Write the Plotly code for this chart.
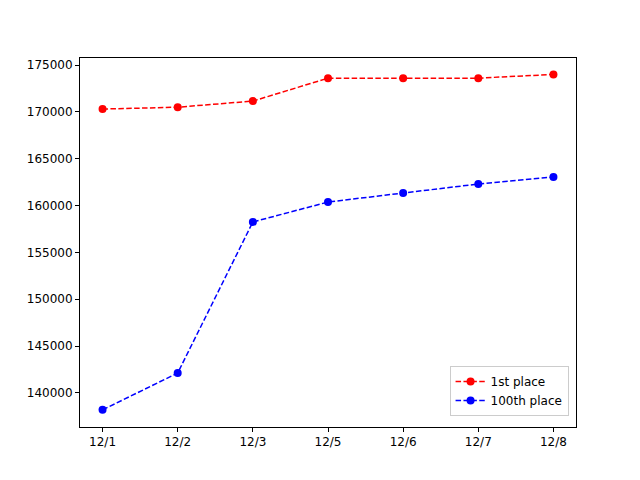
import plotly.graph_objects as go

dates = ["12/1", "12/2", "12/3", "12/5", "12/6", "12/7", "12/8"]
first = [170300, 170500, 171150, 173600, 173600, 173600, 174000]
hundredth = [138200, 142130, 158250, 160380, 161340, 162300, 163050]

fig = go.Figure()
fig.add_trace(go.Scatter(x=list(range(len(dates))), y=first, name="1st place", mode="lines+markers",
                         line=dict(color="red", dash="5.5px,2.4px", width=1.5), marker=dict(size=8, color="red")))
fig.add_trace(go.Scatter(x=list(range(len(dates))), y=hundredth, name="100th place", mode="lines+markers",
                         line=dict(color="blue", dash="5.5px,2.4px", width=1.5), marker=dict(size=8, color="blue")))
ax = dict(showgrid=False, zeroline=False, showline=True, linecolor="black", mirror=True,
          ticks="outside", ticklen=4, tickcolor="black")
fig.update_layout(
    width=640, height=480, margin=dict(l=72, r=72, t=50, b=61),
    paper_bgcolor="white", plot_bgcolor="white",
    font=dict(family="DejaVu Sans", size=12, color="black"),
    xaxis=dict(**ax, tickvals=list(range(len(dates))), ticktext=dates, range=[-0.3, 6.3]),
    yaxis=dict(**ax, range=[136370, 175750], dtick=5000, tickformat="d"),
    legend=dict(x=0.985, y=0.03, xanchor="right", yanchor="bottom", bordercolor="#cccccc",
                borderwidth=1, bgcolor="white"),
    showlegend=True,
)
fig.write_html("out.html")
